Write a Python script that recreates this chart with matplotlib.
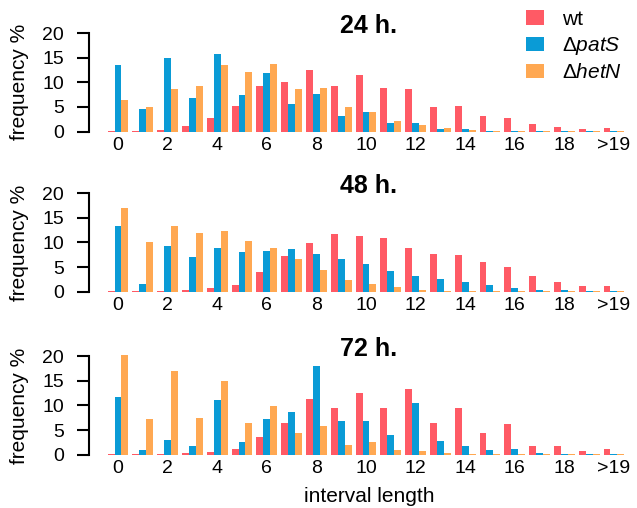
import numpy as np
import matplotlib
matplotlib.use('Agg')
import matplotlib.pyplot as plt

plt.rcParams['font.family'] = ['Liberation Sans', 'DejaVu Sans']
plt.rcParams['mathtext.fontset'] = 'custom'
plt.rcParams['mathtext.rm'] = 'Liberation Sans'
plt.rcParams['mathtext.it'] = 'Liberation Sans:italic'

# interval lengths 0..19 and >19
categories = list(range(20)) + ['>19']
tick_pos = [0, 2, 4, 6, 8, 10, 12, 14, 16, 18, 20]
tick_labels = ['0', '2', '4', '6', '8', '10', '12', '14', '16', '18', '>19']

titles = ['24 h.', '48 h.', '72 h.']
series_names = ['wt', r'$\Delta\mathit{patS}$', r'$\Delta\mathit{hetN}$']
colors = ['#FF5A65', '#0A9BD6', '#FFA852']

wt_24 = [0.15, 0.15, 0.3, 1.15, 2.8, 5.2, 9.3, 10.1, 12.5, 9.3, 11.5,
         8.9, 8.7, 5.0, 5.2, 3.2, 2.8, 1.55, 0.95, 0.55, 0.75]
pats_24 = [13.6, 4.6, 15.0, 6.85, 15.8, 7.45, 11.9, 5.6, 7.7, 3.2, 4.0,
           1.75, 1.75, 0.55, 0.55, 0.15, 0.15, 0.05, 0.1, 0.1, 0.05]
hetn_24 = [6.4, 5.0, 8.7, 9.3, 13.6, 12.1, 13.8, 8.7, 8.9, 5.0, 4.0,
           2.15, 1.35, 0.75, 0.35, 0.15, 0.15, 0.15, 0.1, 0.1, 0.05]

wt_48 = [0.15, 0.15, 0.15, 0.35, 0.75, 1.35, 4.0, 7.25, 9.9, 11.7, 11.3,
         10.9, 8.9, 7.65, 7.45, 6.0, 5.0, 3.2, 2.0, 1.15, 1.15]
pats_48 = [13.4, 1.55, 9.3, 7.05, 8.9, 8.05, 8.3, 8.7, 7.65, 6.65, 5.6,
           4.2, 3.2, 2.6, 2.0, 1.35, 0.75, 0.35, 0.35, 0.15, 0.15]
hetn_48 = [17.0, 10.1, 13.4, 11.9, 12.3, 10.3, 8.9, 6.65, 4.4, 2.4, 1.55,
           0.95, 0.35, 0.15, 0.15, 0.1, 0.05, 0.05, 0.05, 0.05, 0.05]

wt_72 = [0.15, 0.15, 0.15, 0.35, 0.55, 1.15, 3.55, 6.4, 11.25, 9.4, 12.45,
         9.4, 13.25, 6.4, 9.4, 4.4, 6.2, 1.75, 1.75, 0.75, 1.15]
pats_72 = [11.65, 0.95, 2.95, 1.75, 11.05, 2.55, 7.2, 8.6, 18.1, 6.8, 6.8,
           3.95, 10.45, 2.75, 1.75, 0.95, 1.15, 0.35, 0.15, 0.15, 0.15]
hetn_72 = [20.3, 7.2, 16.9, 7.4, 14.9, 6.4, 9.85, 4.4, 5.8, 1.95, 2.55,
           0.95, 0.75, 0.35, 0.15, 0.15, 0.15, 0.15, 0.05, 0.05, 0.05]

panels = [
    [wt_24, pats_24, hetn_24],
    [wt_48, pats_48, hetn_48],
    [wt_72, pats_72, hetn_72],
]

fig = plt.figure(figsize=(6.37, 5.08), dpi=100)
x = np.arange(len(categories))
w = 0.28
offsets = [-w, 0, w]

bottoms = [0.7362, 0.4209, 0.1000]
handles = []
for k, data in enumerate(panels):
    ax = fig.add_axes([89 / 637, bottoms[k], 548 / 637, 0.2085])
    for s in range(3):
        b = ax.bar(x + offsets[s], data[s], width=w, color=colors[s],
                   linewidth=0, label=series_names[s])
        if k == 0:
            handles.append(b)
    ax.set_xlim(-1.17, 20.93)
    ax.set_ylim(-0.5, 21)
    ax.set_yticks([0, 5, 10, 15, 20])
    ax.set_xticks(tick_pos)
    ax.set_xticklabels(tick_labels)
    for sp in ['top', 'right', 'bottom']:
        ax.spines[sp].set_visible(False)
    ax.spines['left'].set_bounds(0, 20)
    ax.spines['left'].set_linewidth(1.5)
    ax.tick_params(axis='y', length=9, width=1.5, pad=9, labelsize=14)
    ax.tick_params(axis='x', length=0, pad=2, labelsize=14)
    ax.patch.set_alpha(0)
    ax.text(10.1, 20.0, titles[k], ha='center', va='baseline',
            fontsize=18, fontweight='bold')
    fig.text(20 / 637, bottoms[k] + 0.2085 * 0.488, 'frequency %',
             rotation=90, ha='center', va='center', fontsize=15)

fig.text(369 / 637, 1 - 496 / 508, 'interval length', ha='center',
         va='center', fontsize=15)

fig.legend(handles, series_names, loc='upper left',
           bbox_to_anchor=(520 / 637, 0.993), frameon=False, fontsize=15,
           handlelength=0.87, handleheight=0.67, handletextpad=0.87,
           labelspacing=0.3, borderaxespad=0, borderpad=0.3)

fig.savefig('out.png', dpi=100)
